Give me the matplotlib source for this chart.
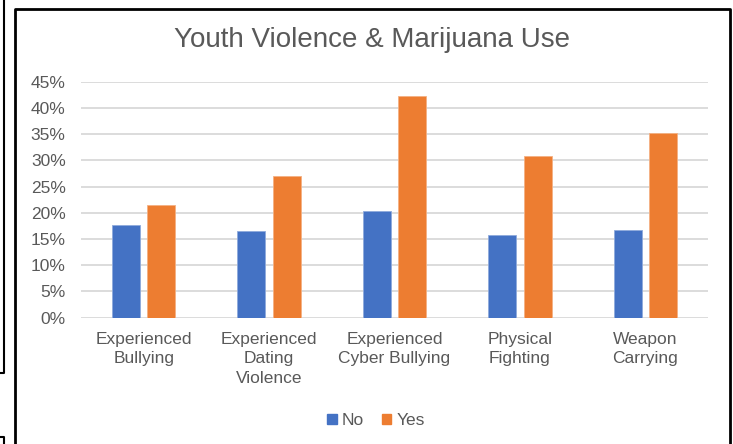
import matplotlib
matplotlib.use("Agg")
import matplotlib.pyplot as plt
from matplotlib.lines import Line2D
from matplotlib.patches import Patch
import numpy as np

categories = ["Experienced\nBullying", "Experienced\nDating\nViolence",
              "Experienced\nCyber Bullying", "Physical\nFighting", "Weapon\nCarrying"]
no_vals = [17.6, 16.6, 20.3, 15.7, 16.8]
yes_vals = [21.5, 27.0, 42.3, 30.9, 35.2]
yticks = [0, 5, 10, 15, 20, 25, 30, 35, 40, 45]

blue = "#4472C4"
orange = "#ED7D31"
gray = "#595959"

plt.rcParams['font.family'] = ['Liberation Sans', 'DejaVu Sans']

fig = plt.figure(figsize=(7.33, 4.44), dpi=100)
ax = fig.add_axes([81/733, 1-317.7/444, 627/733, 236/444])

x = np.arange(len(categories))
w = 0.223
ax.bar(x - 0.141, no_vals, w, color=blue, edgecolor="#8FAADC", linewidth=0.6, zorder=3)
ax.bar(x + 0.141, yes_vals, w, color=orange, edgecolor="#F4B183", linewidth=0.6, zorder=3)

ax.set_xlim(-0.5, len(categories) - 0.5)
ax.set_ylim(0, 45)
ax.set_yticks(yticks)
ax.set_yticklabels([f"{t}%" for t in yticks])
ax.set_xticks(x)
ax.set_xticklabels(categories, linespacing=1.38)
ax.tick_params(axis='y', length=0, pad=11, labelsize=12.5, labelcolor=gray)
ax.tick_params(axis='x', length=0, pad=10, labelsize=12.5, labelcolor=gray)
ax.grid(axis='y', color="#D9D9D9", linewidth=1.3, zorder=0)
for s in ax.spines.values():
    s.set_visible(False)

fig.text(372/733, 1-40/444, "Youth Violence & Marijuana Use", ha='center', va='center',
         fontsize=20, color=gray)

handles = [Patch(color=blue, label="No"), Patch(color=orange, label="Yes")]
fig.legend(handles=handles, loc='center', bbox_to_anchor=(376/733, 1-420.5/444), ncol=2,
           frameon=False, fontsize=12.5, handlelength=0.55, handleheight=0.55,
           handletextpad=0.3, columnspacing=1.0, labelcolor=gray)

# black frames from the screenshot
def fline(xs, ys, lw=2):
    fig.add_artist(Line2D([v/733 for v in xs], [1-v/444 for v in ys], color='black',
                          linewidth=lw, transform=fig.transFigure))

fline([15, 15, 730, 730], [445, 9, 9, 445])
fline([4, 4, 0], [0, 373, 373], lw=1.5)
fline([0, 4, 4], [437, 437, 445], lw=1.5)

fig.savefig("out.png", dpi=100)
